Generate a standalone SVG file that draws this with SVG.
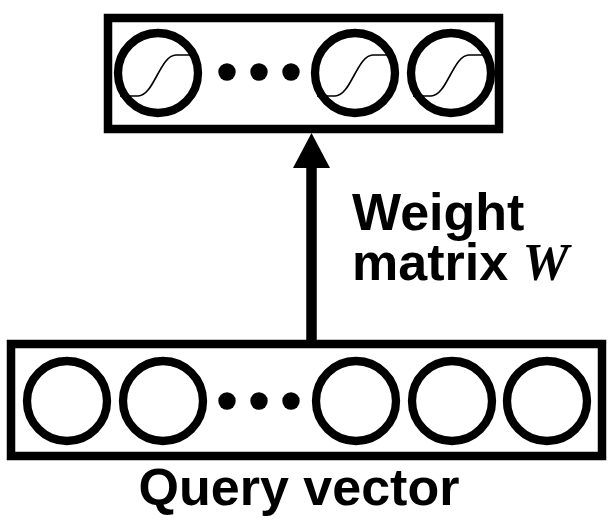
<svg xmlns="http://www.w3.org/2000/svg" width="613" height="522" viewBox="0 0 613 522">
  <defs>
    <style>
      .box { fill: none; stroke: #000; stroke-width: 8.5; }
      .unit { fill: none; stroke: #000; stroke-width: 8.3; }
      .dot { fill: #000; }
      .sig { fill: none; stroke: #000; stroke-width: 1.6; }
      .label { font-family: "Liberation Sans", Arial, sans-serif; font-weight: bold; font-size: 52px; fill: #000; }
      .var { font-family: "Liberation Serif", "Times New Roman", serif; font-style: italic; font-size: 52px; fill: #000; }
    </style>
    <!-- sigmoid activation curve, centred on the unit -->
    <path id="sigmoid" class="sig" d="M -38,23 L -20,23 C -4,23 2,-18 18,-18 L 33,-18"/>
  </defs>

  <!-- output layer: sigmoid units -->
  <g id="output-layer">
    <rect class="box" x="108" y="18" width="391" height="111"/>
    <g transform="translate(158,73)">
      <use href="#sigmoid"/>
      <circle class="unit" r="40"/>
    </g>
    <circle class="dot" cx="227" cy="72" r="8.7"/>
    <circle class="dot" cx="259" cy="72" r="8.7"/>
    <circle class="dot" cx="291" cy="72" r="8.7"/>
    <g transform="translate(355,73)">
      <use href="#sigmoid"/>
      <circle class="unit" r="40"/>
    </g>
    <g transform="translate(451,73)">
      <use href="#sigmoid"/>
      <circle class="unit" r="40"/>
    </g>
  </g>

  <!-- input layer: query vector -->
  <g id="query-vector">
    <rect class="box" x="11" y="344" width="591" height="112"/>
    <circle class="unit" cx="67" cy="401" r="40"/>
    <circle class="unit" cx="163" cy="401" r="40"/>
    <circle class="dot" cx="227" cy="401" r="8.7"/>
    <circle class="dot" cx="259" cy="401" r="8.7"/>
    <circle class="dot" cx="291" cy="401" r="8.7"/>
    <circle class="unit" cx="356" cy="401" r="40"/>
    <circle class="unit" cx="452" cy="401" r="40"/>
    <circle class="unit" cx="547" cy="401" r="40"/>
    <text class="label" x="299" y="505" text-anchor="middle">Query vector</text>
  </g>

  <!-- weight connection -->
  <g id="connectors">
    <line x1="311.5" y1="344" x2="311.5" y2="166" stroke="#000" stroke-width="10.5"/>
    <polygon points="311.5,133 293,168 330,168" fill="#000"/>
    <text class="label" x="352" y="230">Weight</text>
    <text class="label" x="352" y="280">matrix <tspan class="var">W</tspan></text>
  </g>
</svg>
